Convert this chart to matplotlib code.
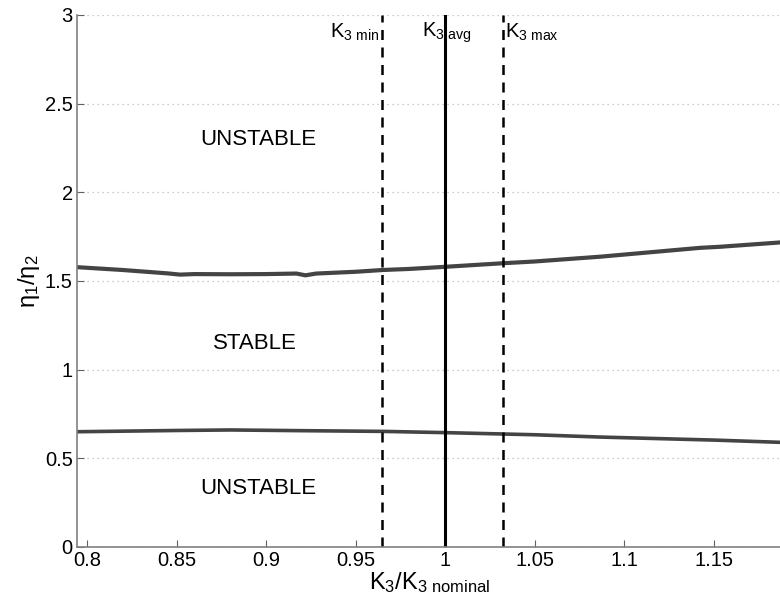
import matplotlib
matplotlib.use('Agg')
import matplotlib.pyplot as plt
import numpy as np

plt.rcParams['font.family'] = ['Liberation Sans', 'DejaVu Sans']
plt.rcParams['mathtext.fontset'] = 'custom'
plt.rcParams['mathtext.rm'] = 'Liberation Sans'
plt.rcParams['mathtext.it'] = 'Liberation Sans'
plt.rcParams['mathtext.bf'] = 'Liberation Sans:bold'

# stability boundary (upper)
k_upper = [0.7944, 0.82, 0.845, 0.852, 0.86, 0.88, 0.90, 0.917, 0.922, 0.928, 0.95, 0.965,
           0.98, 1.0, 1.032, 1.05, 1.0866, 1.1425, 1.1536, 1.188]
eta_upper = [1.578, 1.562, 1.543, 1.536, 1.539, 1.538, 1.539, 1.542, 1.532, 1.542, 1.552, 1.562,
             1.568, 1.58, 1.60, 1.61, 1.637, 1.687, 1.693, 1.718]

# stability boundary (lower)
k_lower = [0.7944, 0.85, 0.88, 0.92, 0.965, 1.0, 1.05, 1.0866, 1.15, 1.188]
eta_lower = [0.65, 0.657, 0.66, 0.656, 0.652, 0.645, 0.633, 0.62, 0.603, 0.59]

k3_min, k3_avg, k3_max = 0.9647, 1.0001, 1.0323

xticks = [0.8, 0.85, 0.9, 0.95, 1.0, 1.05, 1.1, 1.15]
xticklabels = ['0.8', '0.85', '0.9', '0.95', '1', '1.05', '1.1', '1.15']
yticks = [0, 0.5, 1, 1.5, 2, 2.5, 3]
yticklabels = ['0', '0.5', '1', '1.5', '2', '2.5', '3']

fig = plt.figure(figsize=(7.8, 6.08), dpi=100)
ax = fig.add_axes([77 / 780, 1 - 547 / 608, 1 - 77 / 780 + 0.002, (547 - 15) / 608])

ax.plot(k_upper, eta_upper, color='#444444', lw=3)
ax.plot(k_lower, eta_lower, color='#444444', lw=2.6)

ax.axvline(k3_min, color='black', lw=1.8, ls=(0, (4, 3)))
ax.axvline(k3_avg, color='black', lw=2.2)
ax.axvline(k3_max, color='black', lw=1.8, ls=(0, (4, 3)))

ax.set_xlim(0.7944, 1.188)
ax.set_ylim(0, 3)
ax.set_xticks(xticks)
ax.set_xticklabels(xticklabels)
ax.set_yticks(yticks)
ax.set_yticklabels(yticklabels)
ax.grid(axis='y', ls=(0, (1, 3)), color='#bbbbbb', lw=0.9)

for side in ['top', 'right']:
    ax.spines[side].set_visible(False)
for side in ['left', 'bottom']:
    ax.spines[side].set_color('#808080')
    ax.spines[side].set_linewidth(1.2)
ax.tick_params(direction='in', length=5, color='#606060', labelsize=14.5, pad=3)

ax.text(0.8955, 2.3, 'UNSTABLE', fontsize=16, ha='center', va='center')
ax.text(0.894, 1.15, 'STABLE', fontsize=16, ha='center', va='center')
ax.text(0.8955, 0.33, 'UNSTABLE', fontsize=16, ha='center', va='center')

ax.text(k3_min - 0.0012, 2.9, r'$\mathrm{K_{3\ min}}$', fontsize=14.5, ha='right', va='center')
ax.text(0.9873, 2.9, r'$\mathrm{K_{3\ avg}}$', fontsize=14.5, ha='left', va='center')
ax.text(k3_max + 0.0012, 2.9, r'$\mathrm{K_{3\ max}}$', fontsize=14.5, ha='left', va='center')

ax.set_xlabel(r'$\mathrm{K_3/K_{3\ nominal}}$', fontsize=17, labelpad=0)
ax.set_ylabel(r'$\mathrm{\eta_1/\eta_2}$', fontsize=17, labelpad=2)

fig.savefig('out.png', dpi=100)
